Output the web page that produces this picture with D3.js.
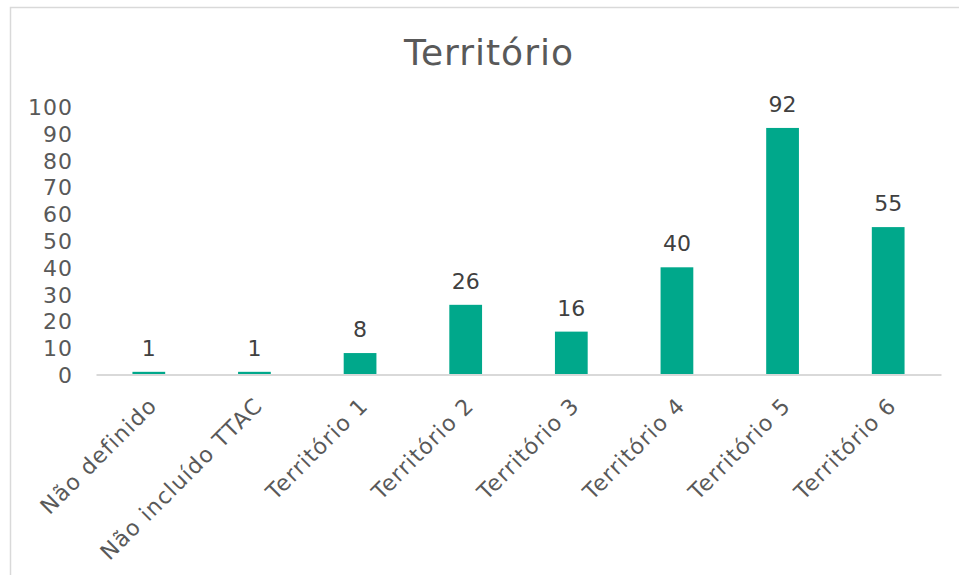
<!DOCTYPE html>
<html>
<head>
<meta charset="utf-8">
<script src="https://cdn.jsdelivr.net/npm/d3@7"></script>
<style>
  html, body { margin: 0; padding: 0; background: #fff; }
  svg { display: block; }
  text { font-family: "DejaVu Sans", Verdana, sans-serif; }
</style>
</head>
<body>
<script>
const categories = ["Não definido", "Não incluído TTAC", "Território 1", "Território 2", "Território 3", "Território 4", "Território 5", "Território 6"];
const values = [1, 1, 8, 26, 16, 40, 92, 55];
const yTicks = [0, 10, 20, 30, 40, 50, 60, 70, 80, 90, 100];
const title = "Território";

const W = 959, H = 575;
const svg = d3.select("body").append("svg").attr("width", W).attr("height", H);

// chart border
svg.append("rect").attr("x", 10.5).attr("y", 7.5).attr("width", W).attr("height", H)
  .attr("fill", "#fff").attr("stroke", "#d9d9d9").attr("stroke-width", 1.5);

const x = d3.scaleBand().domain(categories).range([96, 941]).paddingInner(0.69).paddingOuter(0.345);
const y = d3.scaleLinear().domain([0, 100]).range([374.5, 106.5]);

// title
svg.append("text").attr("x", 489).attr("y", 65).attr("text-anchor", "middle")
  .attr("font-size", 36).attr("letter-spacing", "1px").attr("fill", "#595959").text(title);

// y axis
const yAxis = d3.axisLeft(y).tickValues(yTicks).tickSize(0).tickPadding(0);
const gy = svg.append("g").attr("transform", "translate(73,0)").call(yAxis);
gy.select(".domain").remove();
gy.selectAll("text").attr("font-size", 22).attr("fill", "#595959")
  .attr("letter-spacing", "1px")
  .attr("font-family", "DejaVu Sans, Verdana, sans-serif").attr("dy", "0.36em");

// bars
svg.append("g").selectAll("rect").data(values).join("rect")
  .attr("x", (d, i) => x(categories[i]))
  .attr("width", x.bandwidth())
  .attr("y", d => y(d))
  .attr("height", d => y(0) - y(d))
  .attr("fill", "#00a88b");

// x axis
const xAxis = d3.axisBottom(x).tickSize(0).tickPadding(0);
const gx = svg.append("g").attr("transform", `translate(0,${y(0)})`).call(xAxis);
gx.select(".domain").attr("stroke", "#d9d9d9").attr("stroke-width", 2);
gx.selectAll("text")
  .attr("font-size", 22).attr("fill", "#595959")
  .attr("letter-spacing", "1.2px")
  .attr("font-family", "DejaVu Sans, Verdana, sans-serif")
  .attr("text-anchor", "end")
  .attr("dy", "0.35em")
  .attr("transform", "translate(4,27) rotate(-45)");

// data labels
svg.append("g").selectAll("text").data(values).join("text")
  .attr("x", (d, i) => x(categories[i]) + x.bandwidth() / 2)
  .attr("y", d => y(d) - 16)
  .attr("text-anchor", "middle")
  .attr("font-size", 22).attr("fill", "#404040")
  .text(d => d);
</script>
</body>
</html>
